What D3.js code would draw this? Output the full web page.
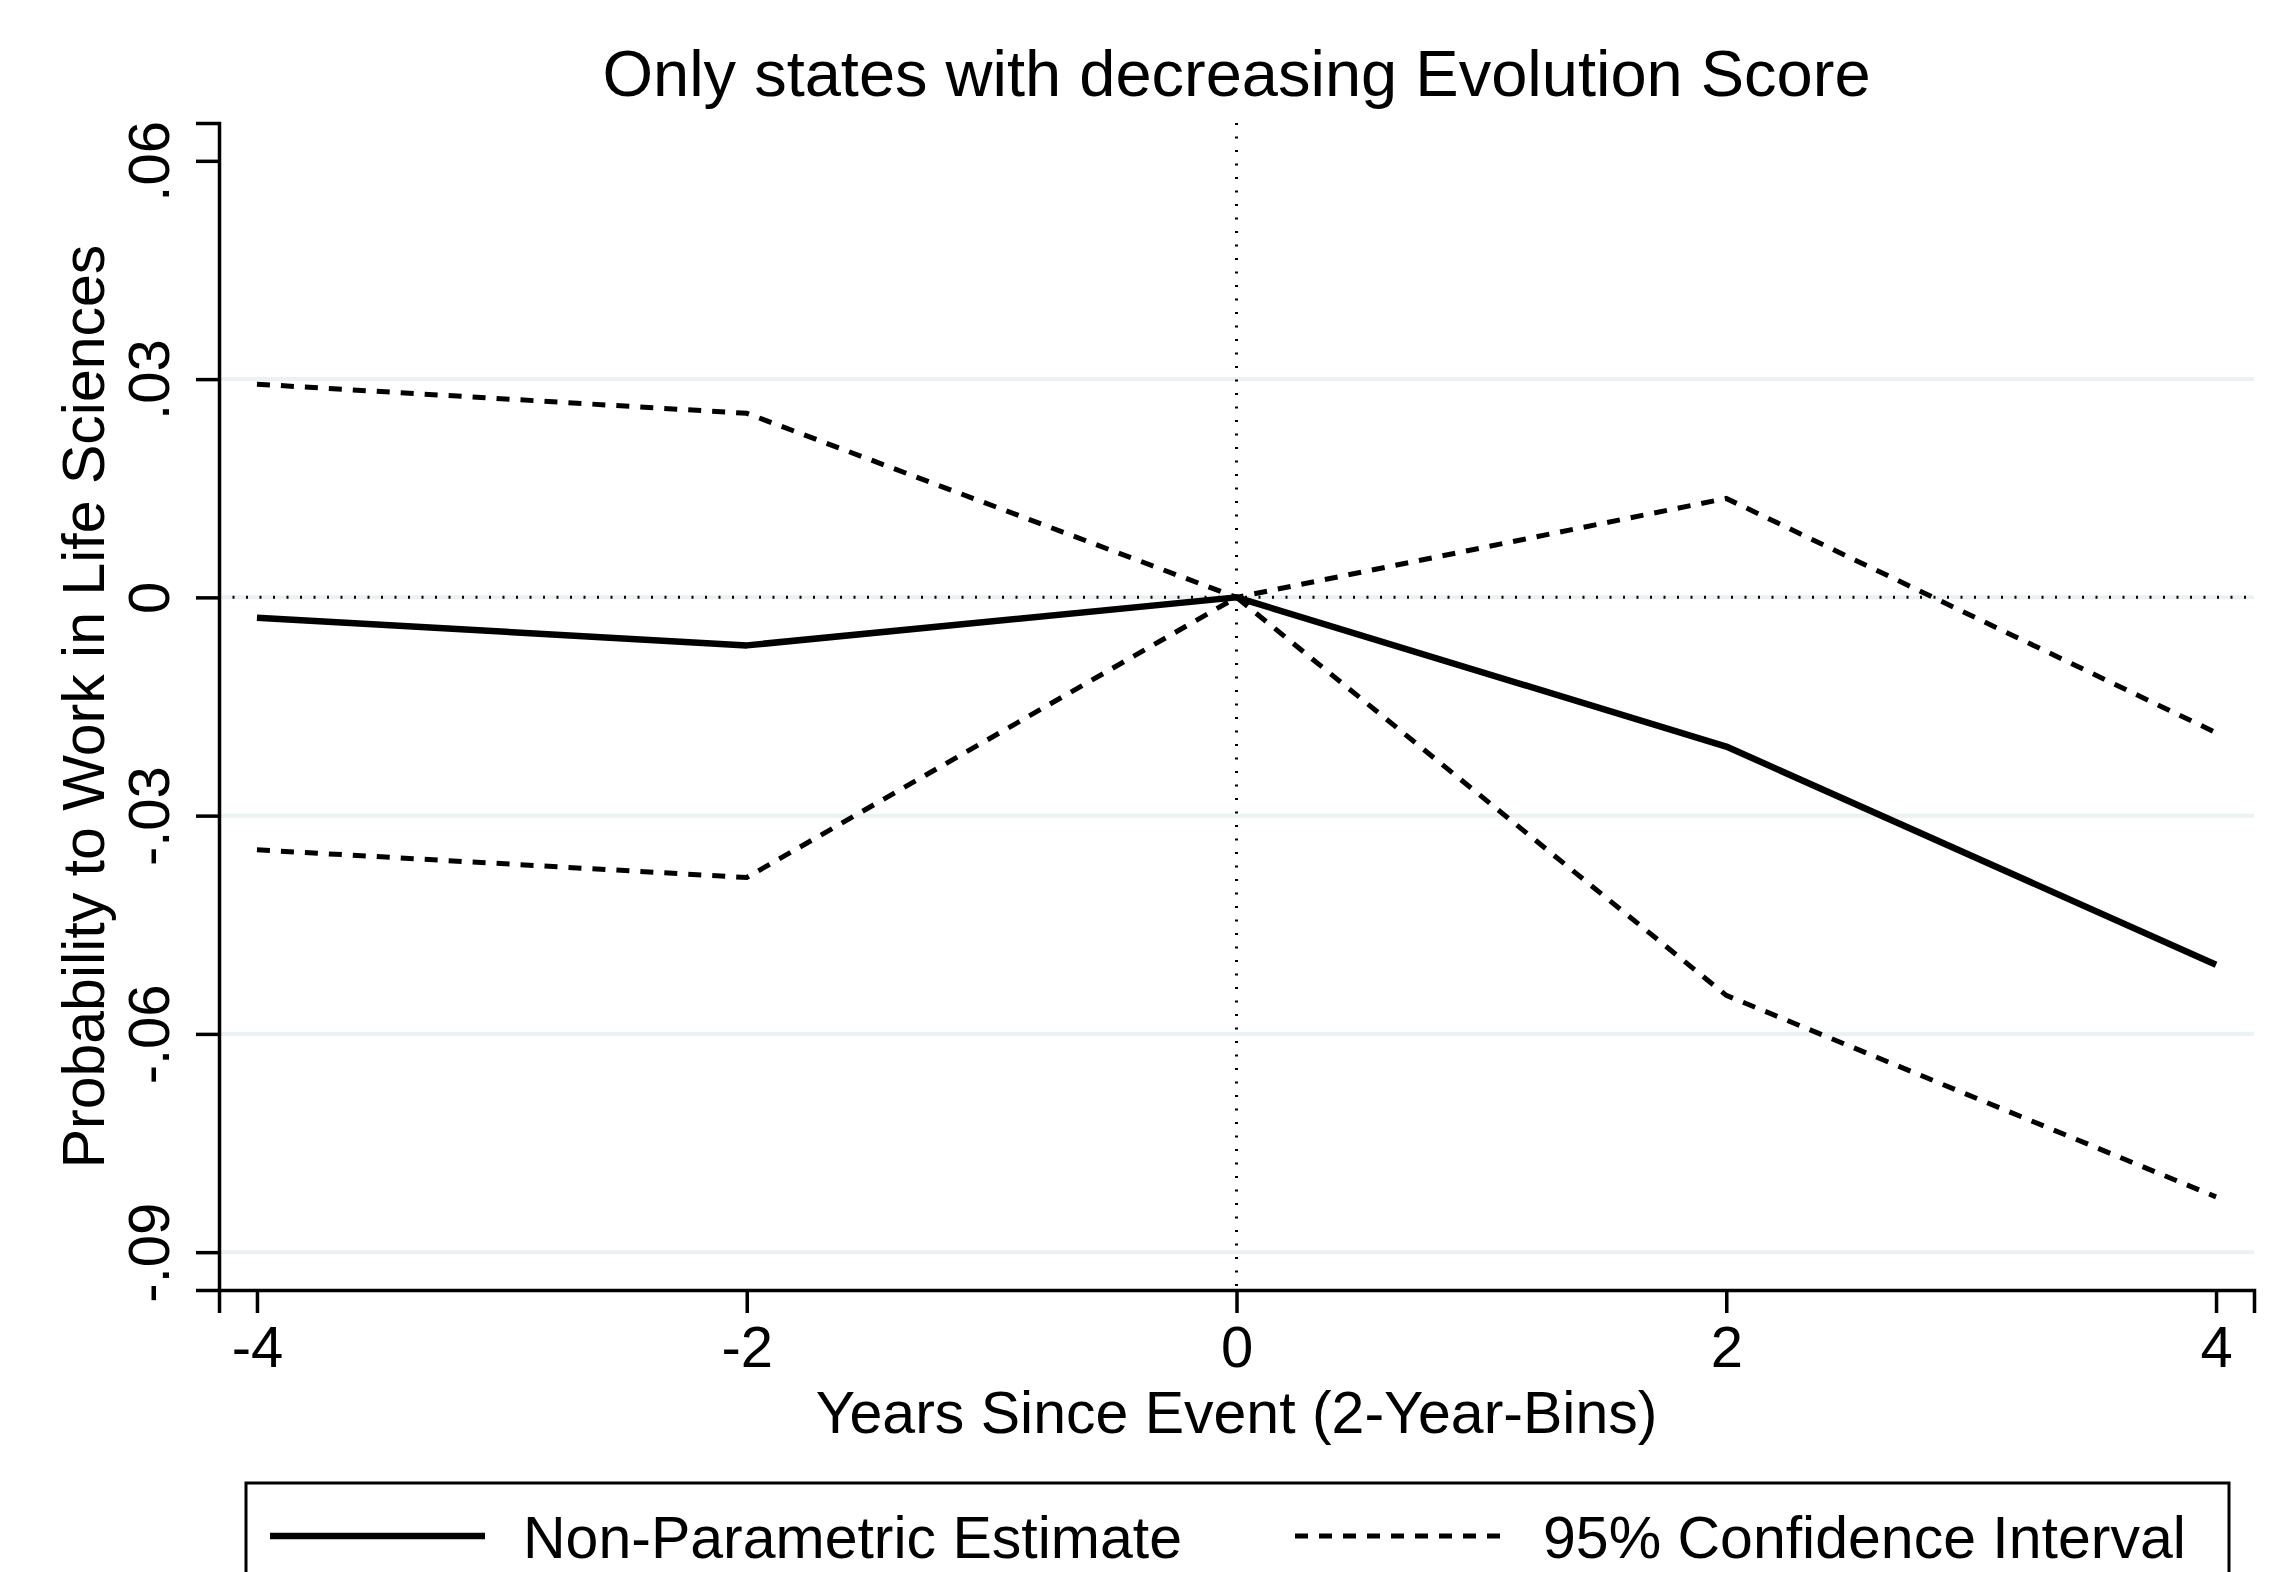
<!DOCTYPE html>
<html>
<head>
<meta charset="utf-8">
<script src="https://cdn.jsdelivr.net/npm/d3@7"></script>
<style>
  html, body { margin: 0; padding: 0; background: #fff; }
  text { font-family: "Liberation Sans", Arial, Helvetica, sans-serif; fill: #000; }
</style>
</head>
<body>
<script>
// values
var years = [-4, -2, 0, 2, 4];
var estimate = [-0.0028, -0.0066, 0, -0.0205, -0.0505];
var ciUpper = [0.0293, 0.0253, 0, 0.0136, -0.0186];
var ciLower = [-0.0347, -0.0385, 0, -0.0547, -0.0824];

var xTicks = [-4, -2, 0, 2, 4];
var xTickLabels = ["-4", "-2", "0", "2", "4"];
var yTicks = [0.06, 0.03, 0, -0.03, -0.06, -0.09];
var yTickLabels = [".06", ".03", "0", "-.03", "-.06", "-.09"];
var gridTicks = [0.03, 0, -0.03, -0.06, -0.09];

var titleText = "Only states with decreasing Evolution Score";
var xTitle = "Years Since Event (2-Year-Bins)";
var yTitle = "Probability to Work in Life Sciences";
var legendLabels = ["Non-Parametric Estimate", "95% Confidence Interval"];

var width = 2289, height = 1572;

var svg = d3.select("body").append("svg")
    .attr("width", width)
    .attr("height", height);

var x = d3.scaleLinear().domain([-4.155, 4.155]).range([219, 2254]);
var y = d3.scaleLinear().domain([-0.0952, 0.0652]).range([1290, 123]);

var plotLeft = x.range()[0], plotRight = x.range()[1],
    plotTop = y.range()[1], plotBottom = y.range()[0];

// grid
svg.selectAll(".grid")
    .data(gridTicks)
  .enter().append("line")
    .attr("class", "grid")
    .attr("x1", plotLeft).attr("x2", plotRight)
    .attr("y1", function(d){ return y(d); })
    .attr("y2", function(d){ return y(d); })
    .style("stroke", "#eaf2f3")
    .style("stroke-width", 4);

// reference lines
svg.append("line")
    .attr("x1", plotLeft).attr("x2", plotRight)
    .attr("y1", y(0)).attr("y2", y(0))
    .style("stroke", "#000")
    .style("stroke-width", 3)
    .style("stroke-dasharray", "2,11.5");

svg.append("line")
    .attr("x1", x(0)).attr("x2", x(0))
    .attr("y1", plotTop).attr("y2", plotBottom)
    .style("stroke", "#000")
    .style("stroke-width", 3)
    .style("stroke-dasharray", "2,11.5");

// series
var line = d3.line()
    .x(function(d){ return x(d[0]); })
    .y(function(d){ return y(d[1]); });

function pairs(vals){
  return years.map(function(t, i){ return [t, vals[i]]; });
}

[ciUpper, ciLower].forEach(function(vals){
  svg.append("path")
    .attr("d", line(pairs(vals)))
    .style("fill", "none")
    .style("stroke", "#000")
    .style("stroke-width", 5)
    .style("stroke-dasharray", "13,11");
});

svg.append("path")
    .attr("d", line(pairs(estimate)))
    .style("fill", "none")
    .style("stroke", "#000")
    .style("stroke-width", 6.5)
    .style("stroke-linejoin", "round");

// axes
var xAxis = d3.axisBottom(x)
    .tickValues(xTicks)
    .tickSize(23)
    .tickFormat(function(d, i){ return xTickLabels[i]; });

var gx = svg.append("g")
    .attr("transform", "translate(0," + plotBottom + ")")
    .call(xAxis);

var yAxis = d3.axisLeft(y)
    .tickValues(yTicks)
    .tickSize(23)
    .tickFormat(function(d, i){ return yTickLabels[i]; });

var gy = svg.append("g")
    .attr("transform", "translate(" + plotLeft + ",0)")
    .call(yAxis);

[gx, gy].forEach(function(g){
  g.select(".domain").style("stroke", "#000").style("stroke-width", 3.5);
  g.selectAll(".tick line").style("stroke", "#000").style("stroke-width", 3.5);
  g.selectAll(".tick text").style("font-size", "58px").style("fill", "#000");
});

gx.selectAll(".tick text")
    .attr("y", null).attr("dy", null)
    .attr("transform", "translate(0,77)");

gy.selectAll(".tick text")
    .attr("x", null).attr("dy", null)
    .attr("text-anchor", "middle")
    .attr("transform", "translate(-50,0)rotate(-90)");

// titles
svg.append("text")
    .attr("x", x(0))
    .attr("y", 96)
    .attr("text-anchor", "middle")
    .style("font-size", "65px")
    .text(titleText);

svg.append("text")
    .attr("x", x(0))
    .attr("y", 1433)
    .attr("text-anchor", "middle")
    .style("font-size", "59px")
    .text(xTitle);

svg.append("text")
    .attr("transform", "translate(104," + ((plotTop + plotBottom) / 2) + ")rotate(-90)")
    .attr("text-anchor", "middle")
    .style("font-size", "59px")
    .text(yTitle);

// legend
var legend = svg.append("g").attr("class", "legend");

legend.append("rect")
    .attr("x", 246).attr("y", 1483)
    .attr("width", 1983).attr("height", 140)
    .style("fill", "#fff")
    .style("stroke", "#000")
    .style("stroke-width", 3);

var legendItems = [
  {x1: 270, x2: 485, tx: 523, dash: null, w: 6.5},
  {x1: 1295, x2: 1504, tx: 1543, dash: "13,11", w: 5}
];

legendItems.forEach(function(d, i){
  legend.append("line")
    .attr("x1", d.x1).attr("x2", d.x2)
    .attr("y1", 1536).attr("y2", 1536)
    .style("stroke", "#000")
    .style("stroke-width", d.w)
    .style("stroke-dasharray", d.dash);
  legend.append("text")
    .attr("x", d.tx)
    .attr("y", 1558)
    .style("font-size", "59px")
    .text(legendLabels[i]);
});
</script>
</body>
</html>
